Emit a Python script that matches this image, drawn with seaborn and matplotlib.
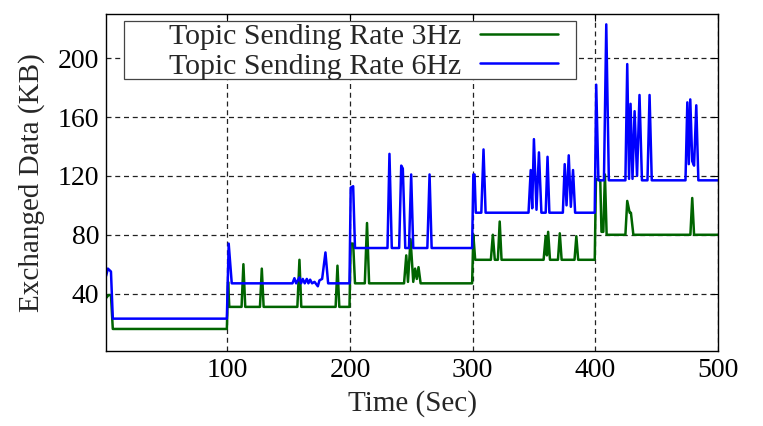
import matplotlib
matplotlib.use("Agg")
import matplotlib.pyplot as plt
from matplotlib.patches import Rectangle
import pandas as pd
import seaborn as sns

# values (time in sec, exchanged data in KB)
time_3hz = [1, 3, 5, 6.5, 99.5, 100.5, 101.5, 111.5, 113, 114.5, 126.5, 128, 129.5,
            157, 158.7, 160.2, 188.2, 189.7, 191.2, 199.5, 200.5, 202.5, 204, 212, 213.8,
            215.5, 244, 245.8, 247.2, 249.3, 251.5, 253, 254.4, 255.8, 257.5, 299.5,
            300.5, 302, 314.8, 316.4, 318, 320.5, 322, 323.5, 357.8, 359.5, 360.5, 361.5,
            363, 369.5, 371, 372.5, 383, 384.5, 386, 399.5, 400.5, 404, 405, 406.5,
            407.8, 409.2, 424.5, 426, 428, 429, 431, 477.5, 479, 480.5, 500]
kb_3hz = [37, 39, 39, 16, 16, 48, 31, 31, 60, 31, 31, 57, 31,
          31, 63, 31, 31, 59, 31, 31, 74, 74, 47, 47, 88,
          47, 47, 66, 48, 77, 48, 57, 50, 58, 47, 47,
          80, 63, 63, 80, 63, 63, 89, 63, 63, 79, 66, 82,
          63, 63, 81, 63, 63, 79, 63, 63, 118, 117, 82, 82,
          121, 80, 80, 103, 95, 95, 80, 80, 105, 80, 80]

time_6hz = [1, 2.5, 5, 6.5, 99.5, 101, 103.5, 153, 154.6, 156, 158.7, 160, 161.4, 163,
            164.7, 166, 167.4, 169, 171, 173.7, 175, 177.2, 179.9, 182.1, 199.5, 200.5,
            202.5, 204, 230.5, 232.1, 234, 240, 241.7, 243, 245, 248, 249.8, 251.5, 263,
            264.8, 266.5, 299.5, 300.5, 301.5, 302.5, 307, 308.8, 310.5, 345.5, 347.3,
            348.5, 349.9, 352, 354, 356, 359.5, 361, 362.5, 373.5, 375, 376.5, 378.3,
            380, 381.8, 383.5, 399.5, 400.7, 402.5, 407, 408.9, 411, 424.5, 426, 427.5,
            428.7, 430.3, 432, 434, 436, 438, 442.5, 444.2, 446, 473.5, 475, 476.2,
            477.4, 479, 480.5, 482.3, 484, 500]
kb_6hz = [52, 57, 55, 23, 23, 74, 47, 47, 50.5, 47, 51, 47, 50, 47,
          50, 47, 49.5, 47, 48, 45, 49, 50, 68, 47, 47, 112,
          113, 71, 71, 135, 71, 71, 127, 125, 71, 71, 121, 71, 71,
          121, 71, 71, 121, 121, 95, 95, 138, 95, 95, 124,
          98, 145, 97, 136, 95, 95, 133, 95, 95, 128, 100, 134,
          99, 124, 95, 95, 182, 117, 117, 223, 117, 117, 196, 118,
          169, 118, 164, 120, 175, 117, 117, 175, 117, 117, 170, 128,
          172, 130, 127, 168, 117, 117]

label_3hz = "Topic Sending Rate 3Hz"
label_6hz = "Topic Sending Rate 6Hz"

df = pd.concat([
    pd.DataFrame({"time": time_3hz, "kb": kb_3hz, "rate": label_3hz}),
    pd.DataFrame({"time": time_6hz, "kb": kb_6hz, "rate": label_6hz}),
])

sns.set_theme(style="white")
plt.rcParams["font.family"] = ["Liberation Serif", "DejaVu Serif"]

fig = plt.figure(figsize=(7.63, 4.26), dpi=100)
ax = fig.add_axes([0.139, 0.176, 0.802, 0.791])

sns.lineplot(data=df, x="time", y="kb", hue="rate", estimator=None, sort=False,
             palette={label_3hz: "#006400", label_6hz: "#0000ff"},
             linewidth=1.8, ax=ax)

ax.set_xlim(1, 500)
ax.set_ylim(1, 230)
ax.set_xticks([100, 200, 300, 400, 500])
ax.set_yticks([40, 80, 120, 160, 200])
ax.set_xlabel("Time (Sec)", fontsize=21, labelpad=5)
ax.set_ylabel("Exchanged Data (KB)", fontsize=21, labelpad=9)
ax.tick_params(direction="in", length=5, width=0.8, labelsize=20, colors="black",
               top=True, right=True, pad=5)
for s in ax.spines.values():
    s.set_color("black")
    s.set_linewidth(1.0)

ax.set_axisbelow(True)
ax.grid(True, color="#222222", linestyle=(0, (4, 3)), linewidth=0.9)

# gnuplot-style key: text first, sample line after, boxed
handles, labels = ax.get_legend_handles_labels()
ax.add_patch(Rectangle((0.029, 0.807), 0.739, 0.171, transform=ax.transAxes,
                       facecolor="white", edgecolor="#444444", linewidth=0.9, zorder=4.5))
leg = ax.legend(handles, labels, loc="upper right", bbox_to_anchor=(0.7386, 0.972),
                frameon=False, markerfirst=False, fontsize=21.5, handlelength=2.6,
                handletextpad=0.65, labelspacing=0.08, borderpad=0, borderaxespad=0)
leg.set_zorder(5)

fig.savefig("out.png", dpi=100)
